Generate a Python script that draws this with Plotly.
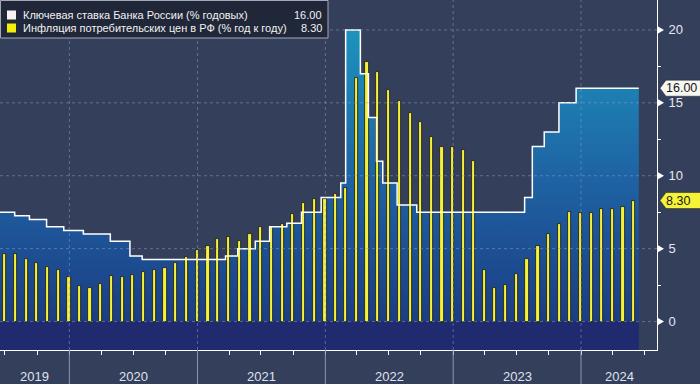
import pandas as pd
import plotly.graph_objects as go

# ---------------- data ----------------
rate_dates = ["2019-06-17", "2019-07-29", "2019-09-09", "2019-10-28", "2019-12-16",
              "2020-02-10", "2020-04-27", "2020-06-22", "2020-07-27",
              "2021-03-22", "2021-04-26", "2021-06-15", "2021-07-26", "2021-09-13",
              "2021-10-25", "2021-12-20",
              "2022-02-14", "2022-02-28", "2022-04-11", "2022-05-04", "2022-05-27",
              "2022-06-14", "2022-07-25", "2022-09-19",
              "2023-07-24", "2023-08-15", "2023-09-18", "2023-10-30", "2023-12-18",
              "2024-06-14"]
rate_values = [7.5, 7.25, 7.0, 6.5, 6.25,
               6.0, 5.5, 4.5, 4.25,
               4.5, 5.0, 5.5, 6.5, 6.75, 7.5, 8.5,
               9.5, 20.0, 17.0, 14.0, 11.0, 9.5, 8.0, 7.5,
               8.5, 12.0, 13.0, 15.0, 16.0,
               16.0]

infl_start_month = "2019-06-01"
infl_values = [4.66, 4.63, 4.31, 3.99, 3.75, 3.54, 3.05,
               2.42, 2.31, 2.55, 3.10, 3.03, 3.21, 3.37, 3.57, 3.67, 3.99, 4.42, 4.91,
               5.19, 5.67, 5.79, 5.53, 6.02, 6.50, 6.46, 6.68, 7.41, 8.13, 8.40, 8.39,
               8.73, 9.15, 16.69, 17.83, 17.10, 15.90, 15.10, 14.30, 13.68, 12.63, 11.98, 11.94,
               11.77, 10.99, 3.51, 2.31, 2.51, 3.25, 4.30, 5.15, 6.00, 6.69, 7.48, 7.42,
               7.44, 7.69, 7.72, 7.84, 8.30]

years = [2019, 2020, 2021, 2022, 2023, 2024]
y_ticks = [0, 5, 10, 15, 20]
y_minor = [2.5, 7.5, 12.5, 17.5]

legend_names = ["Ключевая ставка Банка России (% годовых)",
                "Инфляция потребительских цен в РФ (% год к году)"]
last_rate = rate_values[-1]
last_infl = infl_values[-1]

# ---------------- styling ----------------
X_START = "2019-06-17"
X_END = "2024-08-05"
Y_MIN, Y_MAX = -1.95, 22.05
BG = "#343f5c"
NAVY = "#1f2b6e"
YELLOW = "#f5f23a"
FONT = "Liberation Sans, Arial, sans-serif"
PLOT_H = 350
BOTTOM = 34

infl_dates = pd.date_range(infl_start_month, periods=len(infl_values), freq="MS") + pd.offsets.MonthEnd(0)
quarters = pd.date_range("2019-07-01", "2024-07-01", freq="QS")

f0 = (0 - Y_MIN) / (20 - Y_MIN)

fig = go.Figure()

# baseline for area fill
fig.add_trace(go.Scatter(x=rate_dates, y=[Y_MIN] * len(rate_dates), mode="lines",
                         line=dict(width=0), hoverinfo="skip", showlegend=False))
# key rate filled area
fig.add_trace(go.Scatter(
    x=rate_dates, y=rate_values, mode="lines", line=dict(width=0, shape="hv"),
    fill="tonexty",
    fillgradient=dict(type="vertical", start=Y_MIN, stop=20,
                      colorscale=[[0, NAVY], [f0, NAVY], [f0 + 0.001, "#1c3d84"],
                                  [0.55, "#1e64a4"], [1, "#1d93bd"]]),
    hoverinfo="skip", showlegend=False))

# inflation bars (overlay subplot so they sit above the fill)
fig.add_trace(go.Bar(x=infl_dates, y=infl_values, width=9 * 86400000,
                     xaxis="x2", yaxis="y2",
                     marker=dict(color=YELLOW, line=dict(color="#15171c", width=0.8)),
                     name=legend_names[1], showlegend=False))

# key rate line
fig.add_trace(go.Scatter(x=rate_dates, y=rate_values, mode="lines",
                         xaxis="x2", yaxis="y2",
                         line=dict(color="white", width=1.5, shape="hv"),
                         name=legend_names[0], showlegend=False))

shapes = []
# horizontal gridlines
for v in y_ticks:
    shapes.append(dict(type="line", xref="paper", x0=0, x1=1, yref="y", y0=v, y1=v,
                       line=dict(color="rgba(150,160,188,0.5)", width=1, dash="dot"),
                       layer="above"))
# vertical year gridlines + separators below axis
for yr in years[1:]:
    d = f"{yr}-01-01"
    shapes.append(dict(type="line", xref="x", x0=d, x1=d, yref="paper", y0=0, y1=1,
                       line=dict(color="rgba(150,160,188,0.5)", width=1, dash="dot"),
                       layer="above"))
    shapes.append(dict(type="line", xref="x", x0=d, x1=d, yref="paper", y0=0,
                       y1=-BOTTOM / PLOT_H, line=dict(color="#8d96ab", width=1)))
# triangle tick markers on right axis
for v in y_ticks:
    shapes.append(dict(type="path", xref="paper", xsizemode="pixel", xanchor=1,
                       yref="y", ysizemode="pixel", yanchor=v,
                       path="M 1,-3.5 L 7,0 L 1,3.5 Z", fillcolor="white",
                       line=dict(width=0)))
# value flags
for val, col in [(last_rate, "#f7f7f2"), (last_infl, YELLOW)]:
    shapes.append(dict(type="path", xref="paper", xsizemode="pixel", xanchor=1,
                       yref="y", ysizemode="pixel", yanchor=val,
                       path="M 3,0 L 9,8 L 46,8 L 46,-8 L 9,-8 Z", fillcolor=col,
                       line=dict(color="#222", width=0.5)))

# legend box
W_PLOT = 657
def px(x):
    return x / W_PLOT
def py(y):
    return 1 - y / PLOT_H

shapes.append(dict(type="rect", xref="paper", yref="paper", x0=px(0.5), x1=px(328),
                   y0=py(38), y1=py(0.5), fillcolor="#202739",
                   line=dict(color="#a3a9b8", width=1), layer="above"))
legend_colors = ["#f7f3f0", "#f2ef0a"]
row_y = [15, 28]
for c, ry in zip(legend_colors, row_y):
    shapes.append(dict(type="rect", xref="paper", yref="paper", x0=px(7), x1=px(16),
                       y0=py(ry + 4.5), y1=py(ry - 4.5), fillcolor=c,
                       line=dict(width=0), layer="above"))

annotations = []
for name, val, ry in zip(legend_names, [last_rate, last_infl], row_y):
    annotations.append(dict(xref="paper", yref="paper", x=px(21), y=py(ry),
                            xanchor="left", yanchor="middle", text=name, showarrow=False,
                            font=dict(family=FONT, size=11, color="#f2f2f2")))
    annotations.append(dict(xref="paper", yref="paper", x=px(324), y=py(ry),
                            xanchor="right", yanchor="middle", text=f"{val:.2f}",
                            showarrow=False,
                            font=dict(family=FONT, size=11, color="#f2f2f2")))

# flag texts
for val in [last_rate, last_infl]:
    annotations.append(dict(xref="paper", yref="y", x=1, y=val, xanchor="left",
                            yanchor="middle", xshift=7, text=f"{val:.2f}", showarrow=False,
                            font=dict(family=FONT, size=12.5, color="#151515")))

# year labels centred in visible segment
xs = pd.Timestamp(X_START)
xe = pd.Timestamp(X_END)
for yr in years:
    a = max(pd.Timestamp(f"{yr}-01-01"), xs)
    b = min(pd.Timestamp(f"{yr + 1}-01-01"), xe)
    mid = a + (b - a) / 2
    annotations.append(dict(xref="x", yref="paper", x=mid, y=0, yanchor="top",
                            yshift=-17, text=str(yr), showarrow=False,
                            font=dict(family=FONT, size=13, color="#dfe3ec")))

fig.update_layout(
    width=700, height=384,
    margin=dict(l=0, r=43, t=0, b=BOTTOM),
    paper_bgcolor=BG, plot_bgcolor=BG,
    showlegend=False,
    bargap=0,
    hovermode=False,
    shapes=shapes, annotations=annotations,
    xaxis=dict(type="date", range=[X_START, X_END], showgrid=False, zeroline=False,
               showline=True, linecolor="white", linewidth=1,
               tickmode="array", tickvals=quarters, ticks="outside", ticklen=4,
               tickcolor="white", showticklabels=False),
    yaxis=dict(side="right", range=[Y_MIN, Y_MAX], showgrid=False, zeroline=False,
               showline=True, linecolor="white", linewidth=1,
               tickmode="array", tickvals=y_ticks, ticks="outside", ticklen=8,
               tickcolor="rgba(0,0,0,0)",
               tickfont=dict(family=FONT, size=13, color="#e6e9f0"),
               minor=dict(tickmode="array", tickvals=y_minor, ticks="outside",
                          ticklen=3, tickcolor="white")),
    xaxis2=dict(type="date", overlaying="x", range=[X_START, X_END], visible=False),
    yaxis2=dict(overlaying="y", range=[Y_MIN, Y_MAX], visible=False),
)

fig.write_html("out.html", config={"displayModeBar": False},
               post_script="document.body.style.margin='0';document.body.style.background='" + BG + "';")
